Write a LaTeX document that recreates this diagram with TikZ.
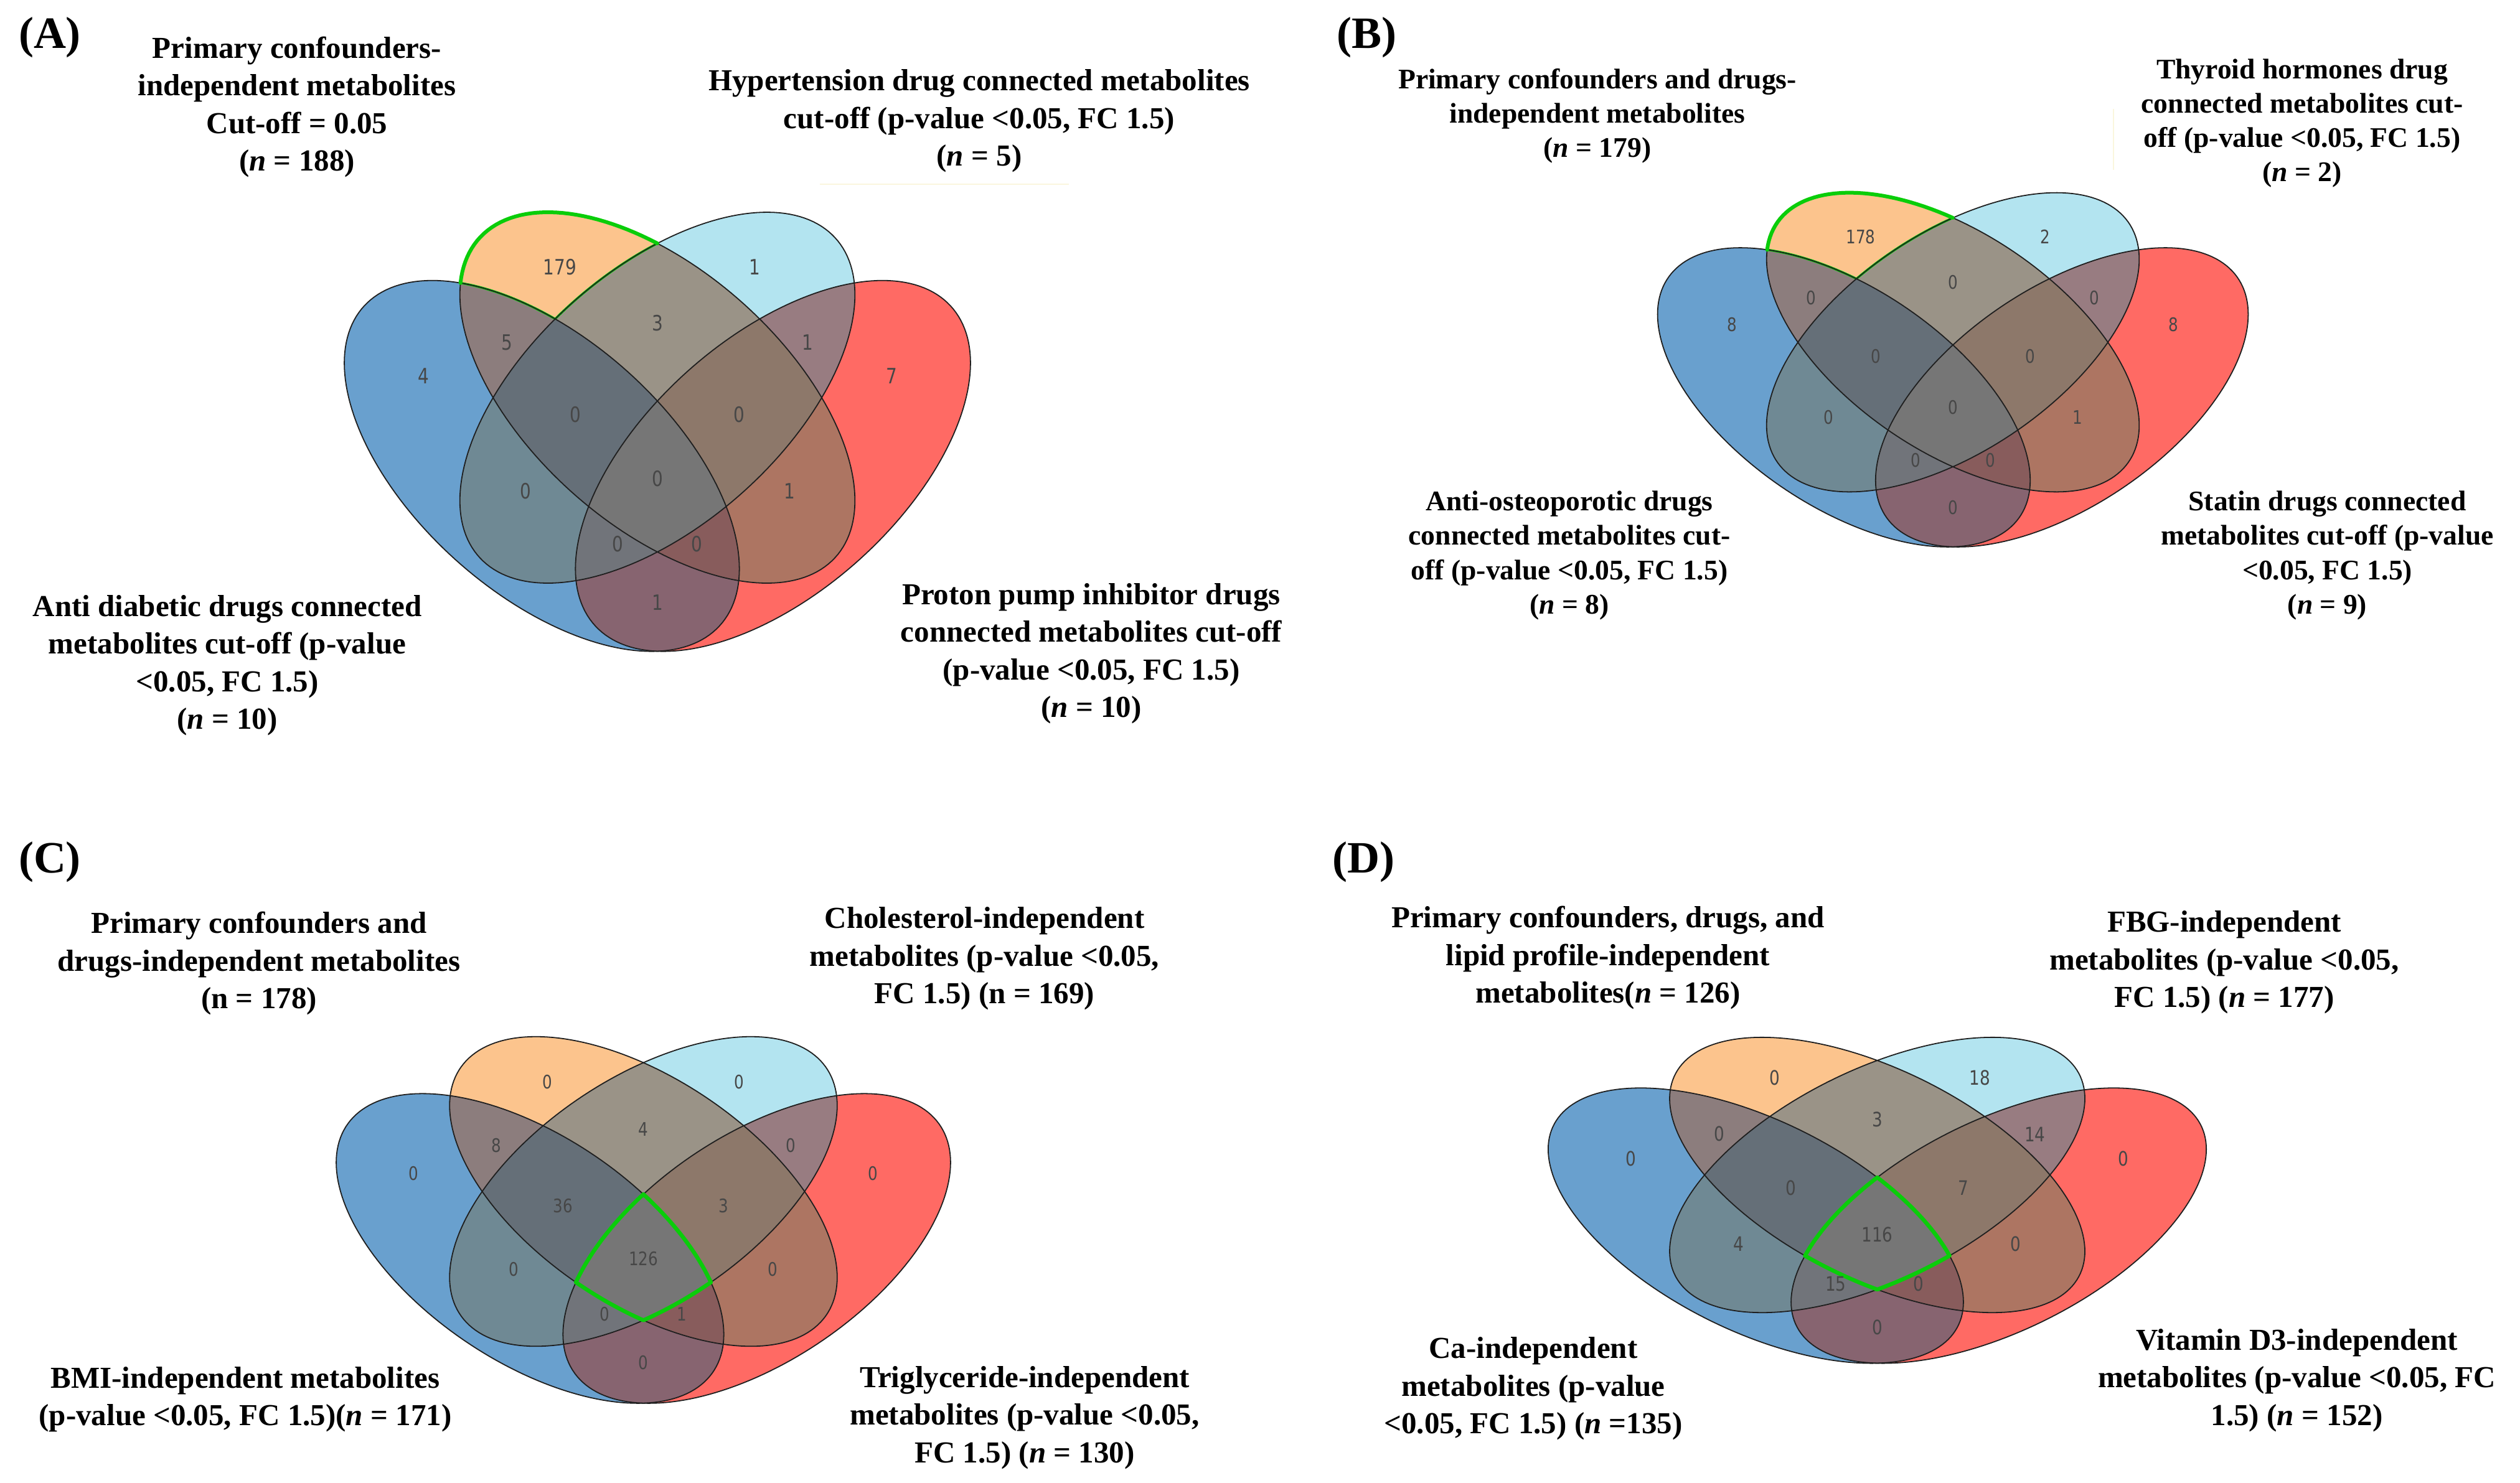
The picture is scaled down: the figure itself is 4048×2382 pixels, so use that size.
\documentclass[tikz,border=0pt]{standalone}
\usepackage{fontspec}
\setmainfont{Liberation Serif}
\newfontfamily\numfont[FakeStretch=0.82]{DejaVu Sans}
\definecolor{cB}{RGB}{105,160,206}
\definecolor{cO}{RGB}{252,196,141}
\definecolor{cL}{RGB}{179,228,240}
\definecolor{cR}{RGB}{255,106,100}
\definecolor{cBO}{RGB}{140,125,125}
\definecolor{cBL}{RGB}{111,137,148}
\definecolor{cBR}{RGB}{135,100,112}
\definecolor{cOL}{RGB}{154,147,135}
\definecolor{cOR}{RGB}{173,117,98}
\definecolor{cLR}{RGB}{152,124,129}
\definecolor{cBOL}{RGB}{101,111,120}
\definecolor{cBOR}{RGB}{136,92,92}
\definecolor{cBLR}{RGB}{113,116,122}
\definecolor{cOLR}{RGB}{141,120,106}
\definecolor{cQ}{RGB}{118,118,118}
\definecolor{vgreen}{RGB}{10,205,10}
\definecolor{faint}{RGB}{250,246,222}
\def\vphi{56.3}\def\Dn{0.585}\def\dY{0.368}
\newcommand\setpanel[4]{\def\PX{#1}\def\PY{#2}\def\PW{#3}\def\PH{#4}}
\def\EB{plot[variable=\vt,domain=0:360,samples=181] ({\PX+\PW*(cos(\vt)-\Dn)},{\PY+\PH*(\dY+cos(\vt-\vphi))}) -- cycle}
\def\EO{plot[variable=\vt,domain=0:360,samples=181] ({\PX+\PW*cos(\vt)},{\PY+\PH*cos(\vt-\vphi)}) -- cycle}
\def\EL{plot[variable=\vt,domain=0:360,samples=181] ({\PX-\PW*cos(\vt)},{\PY+\PH*cos(\vt-\vphi)}) -- cycle}
\def\ER{plot[variable=\vt,domain=0:360,samples=181] ({\PX+\PW*(\Dn-cos(\vt))},{\PY+\PH*(\dY+cos(\vt-\vphi))}) -- cycle}
\newcommand\arcB[3]{#1 plot[variable=\vs,domain=0:1,samples=40] ({\PX+\PW*(cos(#2+(#3-#2)*\vs)-\Dn)},{\PY+\PH*(\dY+cos(#2+(#3-#2)*\vs-\vphi))})}
\newcommand\arcO[3]{#1 plot[variable=\vs,domain=0:1,samples=40] ({\PX+\PW*cos(#2+(#3-#2)*\vs)},{\PY+\PH*cos(#2+(#3-#2)*\vs-\vphi)})}
\newcommand\arcL[3]{#1 plot[variable=\vs,domain=0:1,samples=40] ({\PX-\PW*cos(#2+(#3-#2)*\vs)},{\PY+\PH*cos(#2+(#3-#2)*\vs-\vphi)})}
\newcommand\arcR[3]{#1 plot[variable=\vs,domain=0:1,samples=40] ({\PX+\PW*(\Dn-cos(#2+(#3-#2)*\vs))},{\PY+\PH*(\dY+cos(#2+(#3-#2)*\vs-\vphi))})}
\newcommand\rtwo[3]{\begin{scope}\clip #1;\fill[#3] #2;\end{scope}}
\newcommand\rthree[4]{\begin{scope}\clip #1;\clip #2;\fill[#4] #3;\end{scope}}
\newcommand\rfour[5]{\begin{scope}\clip #1;\clip #2;\clip #3;\fill[#5] #4;\end{scope}}
\newcommand\drawvenn{%
 \fill[cB] \EB; \fill[cO] \EO; \fill[cL] \EL; \fill[cR] \ER;
 \rtwo\EB\EO{cBO}\rtwo\EB\EL{cBL}\rtwo\EB\ER{cBR}%
 \rtwo\EO\EL{cOL}\rtwo\EO\ER{cOR}\rtwo\EL\ER{cLR}%
 \rthree\EB\EO\EL{cBOL}\rthree\EB\EO\ER{cBOR}\rthree\EB\EL\ER{cBLR}\rthree\EO\EL\ER{cOLR}%
 \rfour\EB\EO\EL\ER{cQ}}
\newcommand\outlines{\draw[outl] \EB; \draw[outl] \EO; \draw[outl] \EL; \draw[outl] \ER;}
\newcommand\vnum[5]{\node[#1] (#2) at ({\PX+\PW*(#3)},{\PY+\PH*(#4)}) {#5};}
\tikzset{
 outl/.style={draw=black!88, line width=0.45pt},
 lab/.style={font=\bfseries\fontsize{12.25}{15.125}\selectfont, align=center, inner sep=0pt},
 labB/.style={font=\bfseries\fontsize{11.4}{13.8}\selectfont, align=center, inner sep=0pt},
 plab/.style={font=\bfseries\fontsize{18}{20}\selectfont, inner sep=0pt},
 numA/.style={font=\numfont\fontsize{8.5}{10}\selectfont, text=black!72, inner sep=0pt},
 numB/.style={font=\numfont\fontsize{7.5}{9}\selectfont, text=black!72, inner sep=0pt},
 numD/.style={font=\numfont\fontsize{8}{9.5}\selectfont, text=black!72, inner sep=0pt},
 gthin/.style={draw=vgreen, line width=0.9pt, line join=round},
 gthick/.style={draw=vgreen, line width=1.5pt, line cap=round, line join=round},
 gquad/.style={draw=vgreen, line width=1.6pt, line join=round}
}
\begin{document}
\begin{tikzpicture}[x=0.25pt,y=-0.25pt]
\useasboundingbox (0,0) rectangle (4048,2382);
\fill[white] (0,0) rectangle (4048,2382);

% ---------------- Panel A ----------------
\setpanel{1056}{639}{317.3}{298}
\drawvenn
\draw[gthin] \arcO{}{184.5}{270} \arcL{--}{270}{301.2} \arcB{--}{273.8}{245.7} -- cycle;
\outlines
\draw[gthick] \arcO{}{184.5}{270};
\vnum{numA}{a1}{-1.185}{-0.117}{4}
\vnum{numA}{a2}{-0.494}{-0.706}{179}
\vnum{numA}{a3}{0.494}{-0.706}{1}
\vnum{numA}{a4}{1.185}{-0.117}{7}
\vnum{numA}{a5}{-0.76}{-0.297}{5}
\vnum{numA}{a6}{0}{-0.403}{3}
\vnum{numA}{a7}{0.76}{-0.297}{1}
\vnum{numA}{a8}{-0.415}{0.092}{0}
\vnum{numA}{a9}{0.415}{0.092}{0}
\vnum{numA}{a10}{0}{0.435}{0}
\vnum{numA}{a11}{-0.668}{0.503}{0}
\vnum{numA}{a12}{0.668}{0.503}{1}
\vnum{numA}{a13}{-0.2}{0.79}{0}
\vnum{numA}{a14}{0.2}{0.79}{0}
\vnum{numA}{a15}{0}{1.105}{1}
\node[plab] (pA) at (80,60) {(A)};
\node[lab] (aTL) at (477,172) {Primary confounders-\\independent metabolites\\Cut-off = 0.05\\(\textit{n} = 188)};
\node[lab] (aTR) at (1573,194.5) {Hypertension drug connected metabolites\\cut-off (p-value <0.05, FC 1.5)\\(\textit{n} = 5)};
\node[lab] (aBL) at (365,1069) {Anti diabetic drugs connected\\metabolites cut-off (p-value\\<0.05, FC 1.5)\\(\textit{n} = 10)};
\node[lab] (aBR) at (1753,1050) {Proton pump inhibitor drugs\\connected metabolites cut-off\\(p-value <0.05, FC 1.5)\\(\textit{n} = 10)};
\draw[faint, line width=0.5pt] (1317,296) -- (1717,296);

% ---------------- Panel B ----------------
\setpanel{3137}{550}{299.3}{240.4}
\drawvenn
\draw[gthin] \arcO{}{184.5}{270} \arcL{--}{270}{301.2} \arcB{--}{273.8}{245.7} -- cycle;
\outlines
\draw[gthick] \arcO{}{184.5}{270};
\vnum{numB}{b1}{-1.185}{-0.117}{8}
\vnum{numB}{b2}{-0.494}{-0.706}{178}
\vnum{numB}{b3}{0.494}{-0.706}{2}
\vnum{numB}{b4}{1.185}{-0.117}{8}
\vnum{numB}{b5}{-0.76}{-0.297}{0}
\vnum{numB}{b6}{0}{-0.403}{0}
\vnum{numB}{b7}{0.76}{-0.297}{0}
\vnum{numB}{b8}{-0.415}{0.092}{0}
\vnum{numB}{b9}{0.415}{0.092}{0}
\vnum{numB}{b10}{0}{0.435}{0}
\vnum{numB}{b11}{-0.668}{0.503}{0}
\vnum{numB}{b12}{0.668}{0.503}{1}
\vnum{numB}{b13}{-0.2}{0.79}{0}
\vnum{numB}{b14}{0.2}{0.79}{0}
\vnum{numB}{b15}{0}{1.105}{0}
\node[plab] (pB) at (2195,60) {(B)};
\node[labB] (bTL) at (2566,186) {Primary confounders and drugs-\\independent metabolites\\(\textit{n} = 179)};
\node[labB] (bTR) at (3698,198) {Thyroid hormones drug\\connected metabolites cut-\\off (p-value <0.05, FC 1.5)\\(\textit{n} = 2)};
\node[labB] (bBL) at (2521,892.5) {Anti-osteoporotic drugs\\connected metabolites cut-\\off (p-value <0.05, FC 1.5)\\(\textit{n} = 8)};
\node[labB] (bBR) at (3738.5,892.5) {Statin drugs connected\\metabolites cut-off (p-value\\<0.05, FC 1.5)\\(\textit{n} = 9)};
\draw[faint, line width=0.5pt] (3395,175) -- (3395,273);

% ---------------- Panel C ----------------
\setpanel{1033.5}{1914.5}{311.3}{248.8}
\drawvenn
\outlines
\draw[gquad] \arcB{}{305.8}{338.95} \arcL{--}{110.38}{90} \arcO{--}{90}{110.38} \arcR{--}{338.95}{305.8} -- cycle;
\vnum{numB}{c1}{-1.185}{-0.117}{0}
\vnum{numB}{c2}{-0.494}{-0.706}{0}
\vnum{numB}{c3}{0.494}{-0.706}{0}
\vnum{numB}{c4}{1.185}{-0.117}{0}
\vnum{numB}{c5}{-0.76}{-0.297}{8}
\vnum{numB}{c6}{0}{-0.403}{4}
\vnum{numB}{c7}{0.76}{-0.297}{0}
\vnum{numB}{c8}{-0.415}{0.092}{36}
\vnum{numB}{c9}{0.415}{0.092}{3}
\vnum{numB}{c10}{0}{0.435}{126}
\vnum{numB}{c11}{-0.668}{0.503}{0}
\vnum{numB}{c12}{0.668}{0.503}{0}
\vnum{numB}{c13}{-0.2}{0.79}{0}
\vnum{numB}{c14}{0.2}{0.79}{1}
\vnum{numB}{c15}{0}{1.105}{0}
\node[plab] (pC) at (80,1385) {(C)};
\node[lab] (cTL) at (416,1548) {Primary confounders and\\drugs-independent metabolites\\(n = 178)};
\node[lab] (cTR) at (1581.5,1540.5) {Cholesterol-independent\\metabolites (p-value <0.05,\\FC 1.5) (n = 169)};
\node[lab] (cBL) at (394,2248.5) {BMI-independent metabolites\\(p-value <0.05, FC 1.5)(\textit{n} = 171)};
\node[lab] (cBR) at (1646,2278) {Triglyceride-independent\\metabolites (p-value <0.05,\\FC 1.5) (\textit{n} = 130)};

% ---------------- Panel D ----------------
\setpanel{3015.5}{1888}{333.5}{221.2}
\drawvenn
\outlines
\draw[gquad] \arcB{}{305.8}{338.95} \arcL{--}{110.38}{90} \arcO{--}{90}{110.38} \arcR{--}{338.95}{305.8} -- cycle;
\vnum{numD}{d1}{-1.185}{-0.117}{0}
\vnum{numD}{d2}{-0.494}{-0.706}{0}
\vnum{numD}{d3}{0.494}{-0.706}{18}
\vnum{numD}{d4}{1.185}{-0.117}{0}
\vnum{numD}{d5}{-0.76}{-0.297}{0}
\vnum{numD}{d6}{0}{-0.403}{3}
\vnum{numD}{d7}{0.76}{-0.297}{14}
\vnum{numD}{d8}{-0.415}{0.092}{0}
\vnum{numD}{d9}{0.415}{0.092}{7}
\vnum{numD}{d10}{0}{0.435}{116}
\vnum{numD}{d11}{-0.668}{0.503}{4}
\vnum{numD}{d12}{0.668}{0.503}{0}
\vnum{numD}{d13}{-0.2}{0.79}{15}
\vnum{numD}{d14}{0.2}{0.79}{0}
\vnum{numD}{d15}{0}{1.105}{0}
\node[plab] (pD) at (2190,1385) {(D)};
\node[lab] (dTL) at (2583,1539) {Primary confounders, drugs, and\\lipid profile-independent\\metabolites(\textit{n} = 126)};
\node[lab] (dTR) at (3573,1546.5) {FBG-independent\\metabolites (p-value <0.05,\\FC 1.5) (\textit{n} = 177)};
\node[lab] (dBL) at (2463,2231.5) {Ca-independent\\metabolites (p-value\\<0.05, FC 1.5) (\textit{n} =135)};
\node[lab] (dBR) at (3689.5,2218) {Vitamin D3-independent\\metabolites (p-value <0.05, FC\\1.5) (\textit{n} = 152)};
\end{tikzpicture}
\end{document}
